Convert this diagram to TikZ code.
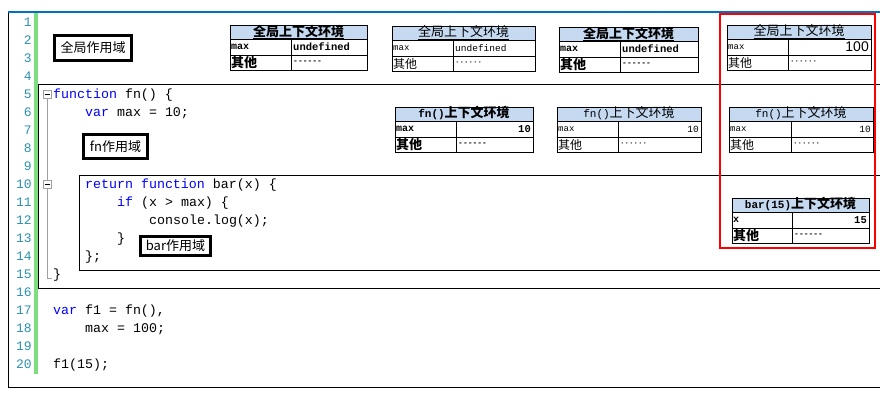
\documentclass[tikz,border=0pt]{standalone}
\usepackage{fontspec}
\setmonofont{Liberation Mono}
\newfontfamily\cjk{Noto Sans CJK SC}
\newfontfamily\numfont{Liberation Sans}
\newcommand{\setfs}[1]{\fontsize{#1}{#1}\selectfont}
\newcommand{\kw}[1]{\textcolor{kwblue}{#1}}
\definecolor{kwblue}{RGB}{0,0,255}
\definecolor{numteal}{RGB}{43,145,175}
\definecolor{bargreen}{RGB}{124,222,124}
\definecolor{topblue}{RGB}{0,112,192}
\definecolor{headfill}{RGB}{197,217,241}
\definecolor{foldgray}{RGB}{160,160,160}
\tikzset{
  code/.style={font=\ttfamily\setfs{13.3}, anchor=base west, inner sep=0pt},
  lineno/.style={font=\ttfamily\setfs{13}, text=numteal, anchor=base east, inner sep=0pt},
  scopelabel/.style={draw, line width=3pt, font=\cjk\setfs{13}, inner sep=0pt},
  foldbox/.style={draw=foldgray, fill=white, minimum size=8pt, inner sep=0pt},
  tabline/.style={line width=0.8pt},
  btitle/.style={font=\cjk\bfseries\setfs{13}, inner sep=0pt},
  ptitle/.style={font=\cjk\setfs{13}, inner sep=0pt},
  bvar/.style={font=\ttfamily\bfseries\setfs{10}, anchor=west, inner sep=1pt},
  pvar/.style={font=\ttfamily\setfs{9}, anchor=west, inner sep=1pt},
  bother/.style={font=\cjk\bfseries\setfs{13}, anchor=west, inner sep=1pt},
  pother/.style={font=\cjk\setfs{12}, anchor=west, inner sep=1pt},
  bdots/.style={font=\ttfamily\bfseries\setfs{8}, anchor=west, inner sep=1pt},
  pdots/.style={font=\ttfamily\bfseries\setfs{7.5}, anchor=west, inner sep=1pt},
  bval/.style={font=\ttfamily\bfseries\setfs{10.5}, inner sep=1pt},
  pval/.style={font=\ttfamily\setfs{9.5}, inner sep=1pt},
}
% #1 name, #2 left, #3 top, #4 width, #5 split, #6 b/p, #7 title, #8 variable, #9 rest
\newcommand{\envtable}[9]{%
  \fill[headfill] (#2,#3) rectangle (#2+#4,#3+14);
  \draw[tabline] (#2,#3) rectangle (#2+#4,#3+45);
  \draw[tabline] (#2,#3+14) -- (#2+#4,#3+14);
  \draw[tabline] (#2,#3+30) -- (#2+#4,#3+30);
  \draw[tabline] (#2+#5,#3+14) -- (#2+#5,#3+45);
  \node[#6title] (#1t) at (#2+#4/2,#3+7) {\underline{#7}};
  \node[#6var] (#1var) at (#2,#3+22) {#8};
  \node[#6other] (#1oth) at (#2,#3+37.5) {其他};
  \node[#6dots] (#1dots) at (#2+#5+1,#3+37.5) {#9};
  \coordinate (#1vw) at (#2+#5+1,#3+22);
  \coordinate (#1ve) at (#2+#4-1,#3+22);
}
\begin{document}
\begin{tikzpicture}[x=1pt,y=-1pt]
\useasboundingbox (0,0) rectangle (894,401);
% editor frame
\draw (8,12) -- (8,387) -- (880,387);
\draw[topblue, line width=2pt] (8,12) -- (880,12);
\fill[bargreen] (34,13) rectangle (38,374);
\foreach \n in {1,...,20}
  \node[lineno] (ln\n) at (32,18*\n+8.5) {\n};
% scopes
\draw (880,84) -- (38.5,84) -- (38.5,288) -- (880,288);
\draw (880,175) -- (79,175) -- (79,270) -- (880,270);
% folding
\node[foldbox] (fold5) at (47,94) {};
\draw[foldgray] (fold5.south) -- (47,278) -- (52,278);
\node[foldbox] (fold10) at (47,184) {};
\foreach \f in {fold5,fold10}
  \draw ([xshift=-2.5pt]\f.center) -- ([xshift=2.5pt]\f.center);
% code
\node[code] (l5) at (53,98.5) {\kw{function} fn() \{};
\node[code] (l6) at (85,116.5) {\kw{var} max = 10;};
\node[code] (l10) at (85,188.5) {\kw{return} \kw{function} bar(x) \{};
\node[code] (l11) at (117,206.5) {\kw{if} (x > max) \{};
\node[code] (l12) at (149,224.5) {console.log(x);};
\node[code] (l13) at (117,242.5) {\}};
\node[code] (l14) at (85,260.5) {\};};
\node[code] (l15) at (53,278.5) {\}};
\node[code] (l17) at (53,314.5) {\kw{var} f1 = fn(),};
\node[code] (l18) at (85,332.5) {max = 100;};
\node[code] (l20) at (53,368.5) {f1(15);};
% scope labels
\node[scopelabel, minimum width=77pt, minimum height=25pt] (globalscope) at (93,48) {全局作用域};
\node[scopelabel, minimum width=64pt, minimum height=24pt] (fnscope) at (115.5,146.5) {fn作用域};
\node[scopelabel, minimum width=70pt, minimum height=19pt] (barscope) at (175.5,246) {bar作用域};
% context tables
\envtable{g1}{230}{25}{137}{61}{b}{全局上下文环境}{max}{------}
\node[bval, anchor=west] (g1val) at (g1vw) {undefined};
\envtable{g2}{392}{26}{143}{61}{p}{全局上下文环境}{max}{······}
\node[pval, anchor=west] (g2val) at (g2vw) {undefined};
\envtable{g3}{559}{27}{139}{61}{b}{全局上下文环境}{max}{------}
\node[bval, anchor=west] (g3val) at (g3vw) {undefined};
\envtable{g4}{727}{25}{144}{61}{p}{全局上下文环境}{max}{······}
\node[font=\numfont\setfs{14}, inner sep=1pt, anchor=east] (g4val) at (g4ve) {100};
\envtable{f1}{395}{107}{138}{61}{b}{{\ttfamily\setfs{11}fn()}上下文环境}{max}{------}
\node[bval, anchor=east] (f1val) at (f1ve) {10};
\envtable{f2}{557}{107}{144}{61}{p}{{\ttfamily\setfs{11}fn()}上下文环境}{max}{······}
\node[pval, anchor=east] (f2val) at (f2ve) {10};
\envtable{f3}{729}{107}{144}{62}{p}{{\ttfamily\setfs{11}fn()}上下文环境}{max}{······}
\node[pval, anchor=east] (f3val) at (f3ve) {10};
\envtable{b1}{732}{198}{137}{60}{b}{{\ttfamily\bfseries\setfs{11}bar(15)}上下文环境}{x}{------}
\node[bval, anchor=east] (b1val) at (b1ve) {15};
% current state
\draw[red, line width=2pt] (720,14) rectangle (875,248);
\end{tikzpicture}
\end{document}
